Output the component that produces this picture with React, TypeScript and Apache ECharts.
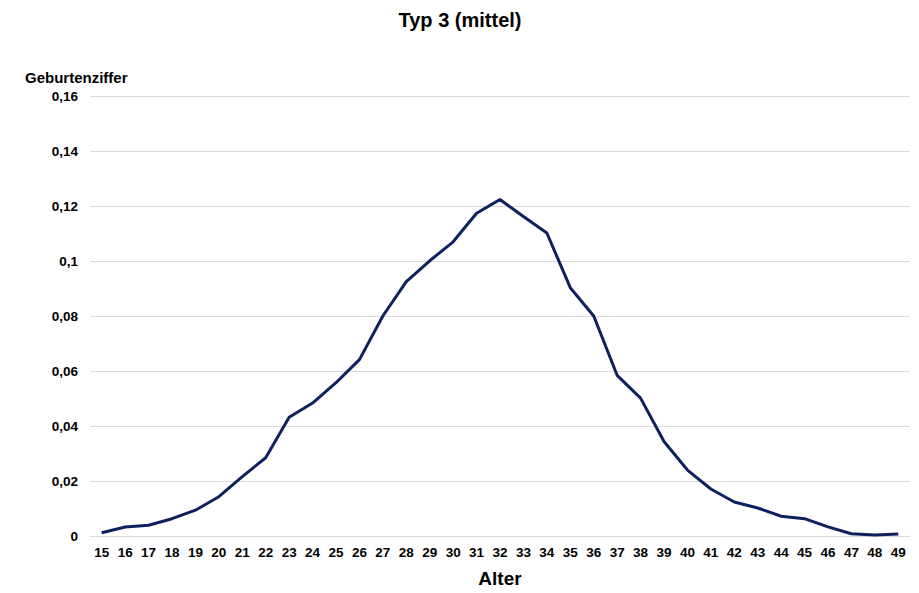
import React, { useEffect, useRef } from "react";
import * as echarts from "echarts";

const ages = [
  "15", "16", "17", "18", "19", "20", "21", "22", "23", "24", "25", "26", "27", "28", "29", "30", "31",
  "32", "33", "34", "35", "36", "37", "38", "39", "40", "41", "42", "43", "44", "45", "46", "47", "48", "49",
];
const rates = [
  0.0012, 0.0033, 0.0039, 0.0063, 0.0094, 0.0143, 0.0216, 0.0285, 0.0432, 0.0484, 0.0558, 0.0642,
  0.0801, 0.0926, 0.1002, 0.1071, 0.1175, 0.1225, 0.1163, 0.1103, 0.0904, 0.0801, 0.0585, 0.0502,
  0.0344, 0.024, 0.0171, 0.0124, 0.0102, 0.0072, 0.0063, 0.0033, 0.0008, 0.0004, 0.0007,
];
const titleText = "Typ 3 (mittel)";
const yName = "Geburtenziffer";
const xName = "Alter";

const FONT = "'Liberation Sans', Arial, sans-serif";

export default function App() {
  const ref = useRef<HTMLDivElement>(null);
  useEffect(() => {
    if (!ref.current) return;
    const chart = echarts.init(ref.current, undefined, { renderer: "svg" });
    chart.setOption({
      animation: false,
      backgroundColor: "#ffffff",
      graphic: [
        {
          type: "text",
          x: 460,
          y: 20,
          style: {
            text: titleText,
            align: "center",
            verticalAlign: "middle",
            fontFamily: FONT,
            fontWeight: "bold",
            fontSize: 20,
            fill: "#000",
          },
        },
        {
          type: "text",
          x: 25,
          y: 77,
          style: {
            text: yName,
            verticalAlign: "middle",
            fontFamily: FONT,
            fontWeight: "bold",
            fontSize: 15,
            fill: "#000",
          },
        },
      ],
      grid: { left: 90, right: 9, top: 96.5, bottom: 54, containLabel: false },
      xAxis: {
        type: "category",
        data: ages,
        boundaryGap: true,
        name: xName,
        nameLocation: "middle",
        nameGap: 33,
        nameTextStyle: { fontFamily: FONT, fontWeight: "bold", fontSize: 19, color: "#000" },
        axisLine: { show: true, lineStyle: { color: "#d9d9d9", width: 1 } },
        axisTick: { show: false },
        axisLabel: { fontFamily: FONT, fontWeight: "bold", fontSize: 13.5, color: "#000", margin: 9, interval: 0 },
      },
      yAxis: {
        type: "value",
        min: 0,
        max: 0.16,
        interval: 0.02,
        axisLine: { show: false },
        axisTick: { show: false },
        splitLine: { lineStyle: { color: "#d9d9d9", width: 1 } },
        axisLabel: {
          fontFamily: FONT,
          fontWeight: "bold",
          fontSize: 13.5,
          color: "#000",
          margin: 12,
          formatter: (v: number) => String(Math.round(v * 100) / 100).replace(".", ","),
        },
      },
      series: [
        {
          type: "line",
          data: rates,
          symbol: "none",
          lineStyle: { color: "#0c215e", width: 3 },
        },
      ],
    });
    return () => chart.dispose();
  }, []);
  return (
    <div
      ref={ref}
      style={{ position: "fixed", left: 0, top: 0, width: 919, height: 593, background: "#fff" }}
    />
  );
}
